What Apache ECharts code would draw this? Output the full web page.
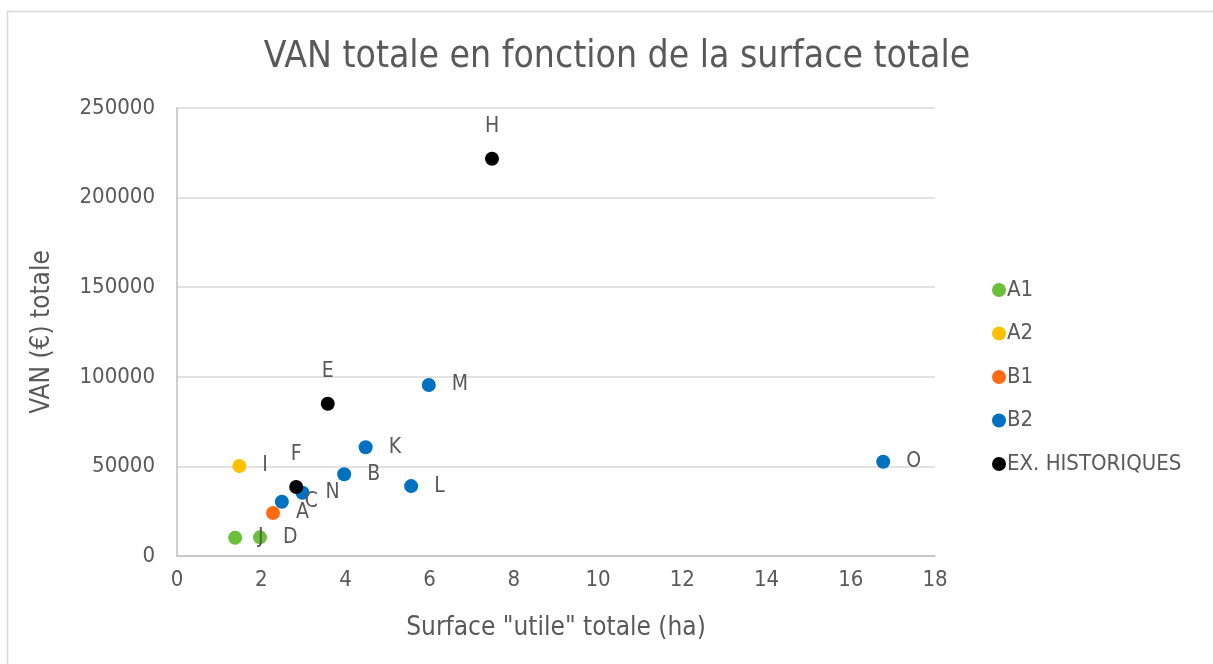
<!DOCTYPE html>
<html>
<head>
<meta charset="utf-8">
<script src="https://cdn.jsdelivr.net/npm/echarts@6/dist/echarts.min.js"></script>
<style>
  html, body { margin: 0; padding: 0; background: #fff; }
  #container { width: 1213px; height: 664px; }
</style>
</head>
<body>
<div id="container"></div>
<script>
// données : [surface (ha), VAN (€), étiquette]
const seriesNames = ['A1', 'A2', 'B1', 'B2', 'EX. HISTORIQUES']
const seriesColors = ['#6abf3b', '#ffc000', '#ff6a13', '#0070c0', '#000000']
const a1Points = [[1.38, 10200, 'J'], [1.97, 10400, 'D']]
const a2Points = [[1.48, 50200, 'I']]
const b1Points = [[2.28, 24000, 'A']]
const b2Points = [
  [2.49, 30300, 'C'], [2.98, 35300, 'N'], [3.97, 45600, 'B'], [4.48, 60650, 'K'],
  [5.56, 39000, 'L'], [5.98, 95400, 'M'], [16.77, 52600, 'O']
]
const histPoints = [[2.83, 38500, 'F'], [3.58, 85000, 'E'], [7.48, 221700, 'H']]
const xTicks = { min: 0, max: 18, interval: 2 }
const yTicks = { min: 0, max: 250000, interval: 50000 }

const font = 'DejaVu Sans Condensed'
const textColor = '#595959'

const allPoints = [a1Points, a2Points, b1Points, b2Points, histPoints]

const dom = document.getElementById('container')
const myChart = echarts.init(dom)

const option = {
  animation: false,
  textStyle: { fontFamily: font },
  graphic: [{
    type: 'rect',
    shape: { x: 7.5, y: 11.5, width: 1250, height: 700 },
    style: { fill: 'none', stroke: '#d9d9d9', lineWidth: 1.5 },
    silent: true
  }],
  title: {
    text: 'VAN totale en fonction de la surface totale',
    left: 612,
    textAlign: 'center',
    top: 34,
    textStyle: { fontFamily: font, fontSize: 37, fontWeight: 'normal', color: textColor }
  },
  legend: {
    orient: 'vertical',
    left: 987,
    top: 274,
    itemGap: 21.5,
    itemWidth: 14,
    itemHeight: 14,
    icon: 'circle',
    data: seriesNames,
    textStyle: { fontFamily: font, fontSize: 22, color: textColor, padding: [0, 0, 0, -4] }
  },
  grid: { left: 177, right: 278, top: 108, bottom: 108 },
  xAxis: {
    type: 'value',
    min: xTicks.min,
    max: xTicks.max,
    interval: xTicks.interval,
    name: 'Surface "utile" totale (ha)',
    nameLocation: 'middle',
    nameGap: 59,
    nameTextStyle: { fontFamily: font, fontSize: 26, color: textColor },
    axisLine: { show: true, lineStyle: { color: '#bfbfbf', width: 1.5 } },
    axisTick: { show: false },
    splitLine: { show: false },
    axisLabel: { fontFamily: font, fontSize: 22, color: textColor, margin: 13 }
  },
  yAxis: {
    type: 'value',
    min: yTicks.min,
    max: yTicks.max,
    interval: yTicks.interval,
    name: 'VAN (€) totale',
    nameLocation: 'middle',
    nameGap: 122,
    nameTextStyle: { fontFamily: font, fontSize: 26, color: textColor },
    axisLine: { show: true, lineStyle: { color: '#bfbfbf', width: 1.5 } },
    axisTick: { show: false },
    splitLine: { show: true, lineStyle: { color: '#d9d9d9', width: 1.5 } },
    axisLabel: { fontFamily: font, fontSize: 22, color: textColor, margin: 22, formatter: (v) => String(v) }
  },
  series: seriesNames.map((name, i) => ({
    name: name,
    type: 'scatter',
    symbol: 'circle',
    symbolSize: 14,
    itemStyle: { color: seriesColors[i], opacity: 1 },
    data: allPoints[i].map(p => ({ value: [p[0], p[1]], label: p[2] })),
    label: {
      show: true,
      position: i === 4 ? 'top' : 'right',
      distance: i === 4 ? 15 : 16,
      formatter: (p) => p.data.label,
      fontFamily: font,
      fontSize: 21,
      color: textColor
    }
  }))
}

myChart.setOption(option, true)
window.addEventListener('resize', () => {
  myChart.resize()
})
</script>
</body>
</html>
